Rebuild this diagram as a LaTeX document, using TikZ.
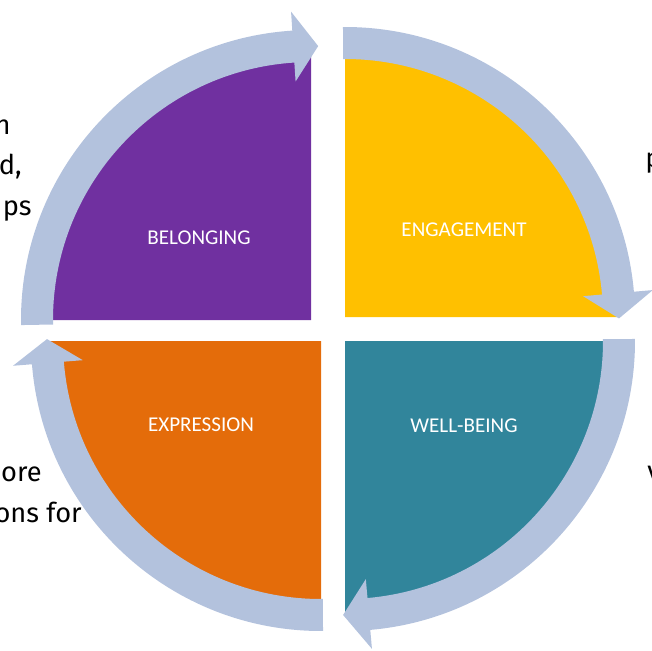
\documentclass[tikz,border=0pt]{standalone}
\usepackage{fontspec}
\setmainfont{Carlito}
\newfontfamily\sidefont{Fira Sans}
\definecolor{ringblue}{RGB}{179,194,221}
\definecolor{belongpurple}{RGB}{112,48,160}
\definecolor{engageyellow}{RGB}{255,192,0}
\definecolor{wellteal}{RGB}{49,133,155}
\definecolor{exprorange}{RGB}{228,108,10}
% ring piece: centre, start angle, head base angle, tip angle
\newcommand{\ringarrow}[4]{%
  \fill[ringblue] ([shift={(#1)}]#2:290) arc[start angle=#2, end angle=#3, radius=290]
    -- ([shift={(#1)}]#3:309) -- ([shift={(#1)}]#4:274) -- ([shift={(#1)}]#3:239)
    -- ([shift={(#1)}]#3:258) arc[start angle=#3, end angle=#2, radius=258] -- cycle;}
\begin{document}
\begin{tikzpicture}[x=0.02cm, y=0.02cm,
    quadlabel/.style={text=white, font=\fontsize{12}{14}\selectfont},
    sidetext/.style={inner sep=0pt, font=\sidefont\fontsize{15.5}{18}\selectfont}]
  \useasboundingbox (0,0) rectangle (652,650);
  % centres of the four quarters
  \coordinate (P) at (311,330);
  \coordinate (Y) at (345,333);
  \coordinate (T) at (345,309);
  \coordinate (O) at (321,309);
  % quarters
  \fill[belongpurple] (P) -- ++(180:272) arc[start angle=180, end angle=90, radius=272] -- cycle;
  \fill[engageyellow] (Y) -- ++(90:272) arc[start angle=90, end angle=0, radius=272] -- cycle;
  \fill[wellteal] (T) -- ++(0:272) arc[start angle=0, end angle=-90, radius=272] -- cycle;
  \fill[exprorange] (O) -- ++(-90:272) arc[start angle=-90, end angle=-180, radius=272] -- cycle;
  % ring arrows
  \ringarrow{P}{181}{93.7}{88.5}
  \ringarrow{Y}{90.4}{5}{-0.3}
  \ringarrow{T}{0.4}{-85}{-90.4}
  \ringarrow{O}{-89.6}{-175.4}{-180.4}
  % labels
  \node[quadlabel] (belonging) at (199,412) {BELONGING};
  \node[quadlabel] (engagement) at (464,420) {ENGAGEMENT};
  \node[quadlabel] (wellbeing) at (464,224) {WELL-BEING};
  \node[quadlabel] (expression) at (201,225) {EXPRESSION};
  % text cut by the edges
  \node[sidetext, anchor=base east] (leftA) at (11,515) {n};
  \node[sidetext, anchor=base east] (leftB) at (22,476) {d,};
  \node[sidetext, anchor=base east] (leftC) at (32,435) {ps};
  \node[sidetext, anchor=base west] (rightA) at (645,482) {p};
  \node[sidetext, anchor=base west] (rightB) at (647,170) {v};
  \node[sidetext, anchor=base east] (lowA) at (42,169) {ore};
  \node[sidetext, anchor=base east] (lowB) at (82,128) {ons for};
\end{tikzpicture}
\end{document}
